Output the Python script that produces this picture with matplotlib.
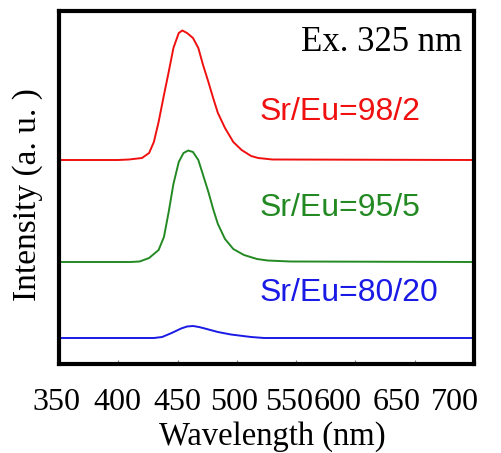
import numpy as np
import matplotlib.pyplot as plt

# Dane (intensywnosc wzgledem linii bazowej)
wl_red = [350, 400, 409, 420, 426, 430, 434, 438, 442.5, 446.5, 451, 454, 458, 463, 467.5,
          471.5, 476, 480, 484, 490, 497, 504, 512, 518, 530, 700]
int_red = [0, 0, 0.5, 2, 7, 18, 38, 62, 88, 112, 127, 129.5, 127, 122, 112,
           95, 78, 62, 47, 32, 18, 10, 4, 2, 0.5, 0]

wl_green = [350, 410, 418, 426, 434, 438.5, 442.5, 446.5, 451, 455, 459, 463, 467.5,
            471.5, 476, 480, 484, 490, 497, 506, 517, 526, 545, 700]
int_green = [0, 0, 0.5, 4, 12, 25, 50, 78, 100, 109, 111.5, 110, 102,
             87, 70, 53, 38, 23, 13, 7, 3, 1.5, 0.5, 0]

wl_blue = [350, 430, 437, 445, 453, 458, 463, 468, 473, 484, 495, 512, 523, 700]
int_blue = [0, 0, 1, 5, 9.5, 11.5, 12, 11, 9.5, 6, 3.5, 1, 0, 0]

offsets = [204, 102, 26]
labels = ['Sr/Eu=98/2', 'Sr/Eu=95/5', 'Sr/Eu=80/20']
colors = ['#f01010', '#238a23', '#1a1ae6']
label_y = [0.714, 0.442, 0.201]

xticks = [350, 400, 450, 500, 550, 600, 650, 700]
# polozenia podpisow osi x (w pikselach, jak w oryginale)
xlab_px = [56, 117, 177, 234, 289, 338, 397, 455]

W, H = 502, 453
fig = plt.figure(figsize=(W / 100, H / 100), dpi=100)
ax = fig.add_axes([59 / W, 1 - 364 / H, 415 / W, 353 / H])

series = [(wl_red, int_red), (wl_green, int_green), (wl_blue, int_blue)]
for (wl, it), off, c in zip(series, offsets, colors):
    ax.plot(wl, np.array(it) + off, color=c, lw=1.4)

for lab, c, yy in zip(labels, colors, label_y):
    ax.text(0.484, yy, lab, color=c, fontsize=23, family='Liberation Sans',
            transform=ax.transAxes, ha='left', va='center')

ax.text(0.971, 0.912, 'Ex. 325 nm', fontsize=25, family='Liberation Serif',
        transform=ax.transAxes, ha='right', va='center')

ax.set_xlim(350, 700)
ax.set_ylim(0, 353)
ax.set_xticks(xticks[1:-1])
ax.set_xticklabels([])
ax.set_yticks([])
ax.tick_params(axis='x', direction='in', length=3, width=0.8, color='#777777')
for s in ax.spines.values():
    s.set_linewidth(3)

for t, px in zip(xticks, xlab_px):
    fig.text(px / W, 1 - 402.5 / H, str(t), fontsize=23, family='Liberation Serif',
             ha='center', va='center')

fig.text(28 / W, 1 - 195 / H, 'Intensity (a. u. )', rotation=90, fontsize=24,
         family='Liberation Serif', ha='center', va='center')
fig.text(272 / W, 1 - 445 / H, 'Wavelength (nm)', fontsize=23.5,
         family='Liberation Serif', ha='center', va='baseline')

fig.savefig('out.png', dpi=100)
